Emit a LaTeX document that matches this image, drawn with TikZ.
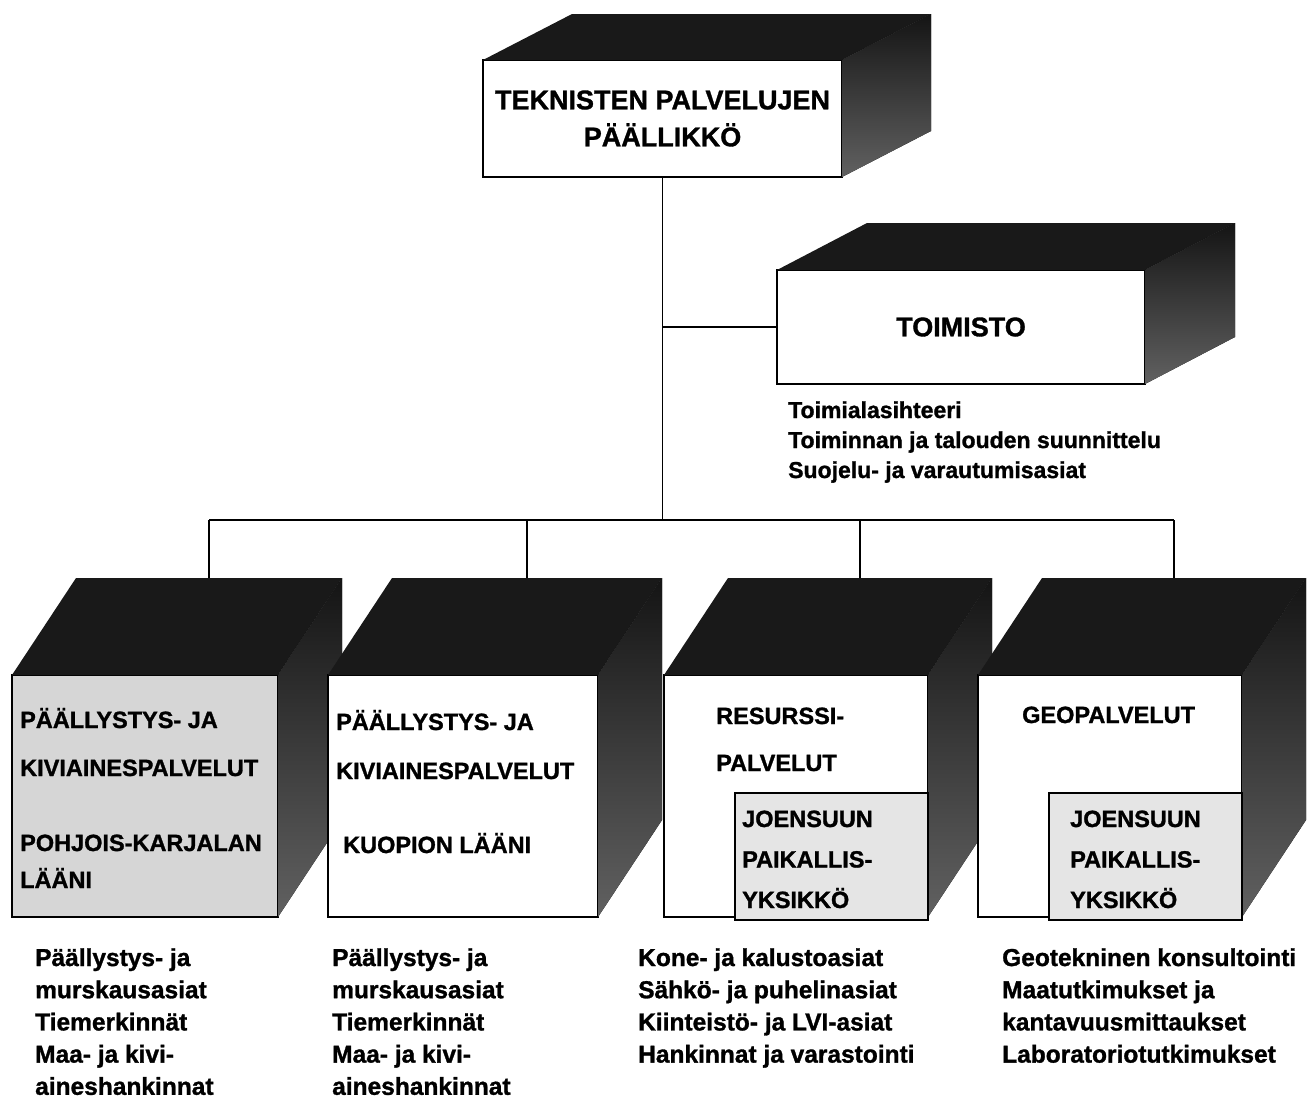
\documentclass[tikz,border=0pt]{standalone}
\usepackage{fontspec}
\setmainfont{Liberation Sans}[BoldFeatures={FakeBold=1.2}]
\usetikzlibrary{calc}

% top and right faces of a block, drawn behind the front node #1
\newcommand{\blockfaces}[3]{%
  \fill[topface] (#1.north west) -- ++(#2,#3) -- ($(#1.north east)+(#2,#3)$) -- (#1.north east) -- cycle;
  \fill[sideface] (#1.north east) -- ++(#2,#3) -- ($(#1.south east)+(#2,#3)$) -- (#1.south east) -- cycle;
}

\begin{document}
\begin{tikzpicture}[x=1pt,y=-1pt,
  front/.style={draw, line width=1.2pt, fill=white, outer sep=0pt, inner sep=0pt},
  topface/.style={fill=black!90},
  sideface/.style={top color=black!92, bottom color=black!62},
  headtext/.style={font=\fontsize{27}{37}\selectfont\bfseries, align=center},
  boxtext/.style={font=\fontsize{23.5}{28}\selectfont\bfseries, anchor=base west, inner sep=0pt},
  dutytext/.style={font=\fontsize{24.5}{32}\selectfont\bfseries, anchor=base west, inner sep=0pt},
  link/.style={line width=1.2pt}]
\useasboundingbox (0,0) rectangle (1308,1100);

% head of the technical services
\node[front, headtext, minimum width=359, minimum height=117] (chief) at (662.5,118.5)
  {TEKNISTEN PALVELUJEN\\PÄÄLLIKKÖ};
\blockfaces{chief}{89}{-46}

% office
\node[front, headtext, minimum width=368, minimum height=114] (office) at (961,327) {TOIMISTO};
\blockfaces{office}{90}{-47}
\foreach \t [count=\i from 0] in {Toimialasihteeri, Toiminnan ja talouden suunnittelu, Suojelu- ja varautumisasiat}
  \node[dutytext, font=\fontsize{23}{30}\selectfont\bfseries] (office-\i) at (788,{418+30*\i}) {\t};

% the four units
\node[front, fill=black!16, minimum width=266, minimum height=242] (pavnk) at (145,796) {};
\blockfaces{pavnk}{64}{-97}
\node[front, minimum width=270, minimum height=242] (pavku) at (463,796) {};
\blockfaces{pavku}{64}{-97}
\node[front, minimum width=264, minimum height=242] (res) at (796,796) {};
\blockfaces{res}{64}{-97}
\node[front, minimum width=264, minimum height=242] (geo) at (1110,796) {};
\blockfaces{geo}{64}{-97}
\node[front, fill=black!10, minimum width=193, minimum height=127] (resloc) at (831.5,856.5) {};
\node[front, fill=black!10, minimum width=193, minimum height=127] (geoloc) at (1145.5,856.5) {};

\node[boxtext] (pavnk-1) at (20,728) {PÄÄLLYSTYS- JA};
\node[boxtext] (pavnk-2) at (20,776) {KIVIAINESPALVELUT};
\node[boxtext] (pavnk-3) at (20,851) {POHJOIS-KARJALAN};
\node[boxtext] (pavnk-4) at (20,888) {LÄÄNI};

\node[boxtext] (pavku-1) at (336,730) {PÄÄLLYSTYS- JA};
\node[boxtext] (pavku-2) at (336,779) {KIVIAINESPALVELUT};
\node[boxtext] (pavku-3) at (343,853) {KUOPION LÄÄNI};

\node[boxtext] (res-1) at (716,724) {RESURSSI-};
\node[boxtext] (res-2) at (716,771) {PALVELUT};
\node[boxtext] (geo-1) at (1022,723) {GEOPALVELUT};

\foreach \t [count=\i from 0] in {JOENSUUN, PAIKALLIS-, YKSIKKÖ} {
  \node[boxtext] (resloc-\i) at (742,{827+40.5*\i}) {\t};
  \node[boxtext] (geoloc-\i) at (1070,{827+40.5*\i}) {\t};
}

% duties under each unit
\foreach \t [count=\i from 0] in {Päällystys- ja, murskausasiat, Tiemerkinnät, Maa- ja kivi-, aineshankinnat} {
  \node[dutytext] (pavnk-d\i) at (35,{966+32.2*\i}) {\t};
  \node[dutytext] (pavku-d\i) at (332,{966+32.2*\i}) {\t};
}
\foreach \t [count=\i from 0] in {Kone- ja kalustoasiat, Sähkö- ja puhelinasiat, Kiinteistö- ja LVI-asiat, Hankinnat ja varastointi}
  \node[dutytext] (res-d\i) at (638,{966+32.2*\i}) {\t};
\foreach \t [count=\i from 0] in {Geotekninen konsultointi, Maatutkimukset ja, kantavuusmittaukset, Laboratoriotutkimukset}
  \node[dutytext] (geo-d\i) at (1002,{966+32.2*\i}) {\t};

% connections
\coordinate (bus) at (662.5,520);
\foreach \b in {pavnk,pavku,res,geo}
  \coordinate (\b-back) at ($(\b.north)+(64,-97)$);
\draw[link] (chief.south) -- (bus);
\draw[link] (office.west -| chief.south) -- (office.west);
\draw[link] (pavnk-back |- bus) -- (geo-back |- bus);
\foreach \b in {pavnk,pavku,res,geo}
  \draw[link] (\b-back |- bus) -- (\b-back);
\end{tikzpicture}
\end{document}
